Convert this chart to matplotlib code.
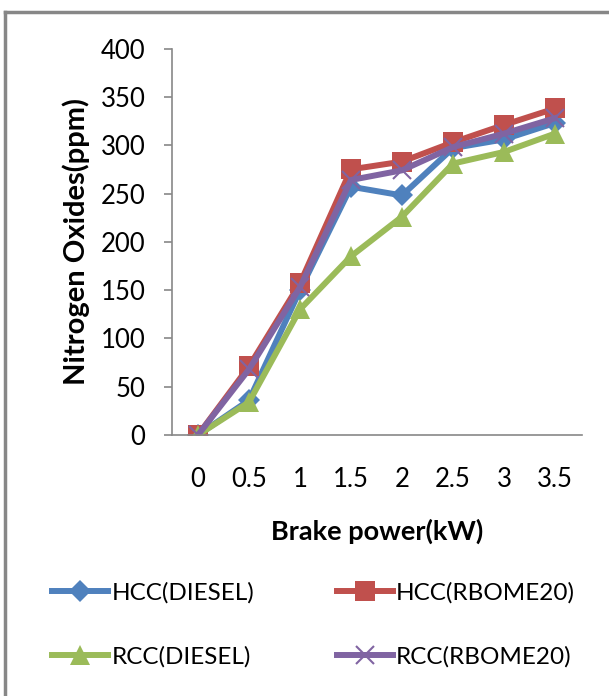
import matplotlib.pyplot as plt
from matplotlib.lines import Line2D

plt.rcParams['font.family'] = ['Lato', 'DejaVu Sans']

power = [0, 0.5, 1, 1.5, 2, 2.5, 3, 3.5]
hcc_diesel = [0, 36, 150, 257, 248, 297, 306, 323]
hcc_rbome20 = [0, 71, 157, 275, 283, 303, 321, 338]
rcc_diesel = [0, 34, 130, 185, 226, 281, 293, 312]
rcc_rbome20 = [0, 68, 153, 264, 274, 298, 312, 328]

series = [
    ('HCC(DIESEL)', hcc_diesel, '#4F81BD', 'D', 11),
    ('HCC(RBOME20)', hcc_rbome20, '#C0504D', 's', 14),
    ('RCC(DIESEL)', rcc_diesel, '#9BBB59', '^', 15),
    ('RCC(RBOME20)', rcc_rbome20, '#8064A2', 'x', 13),
]

W, H = 609, 696
fig = plt.figure(figsize=(W / 100, H / 100), dpi=100)
ax = fig.add_axes([172 / W, 1 - 435 / H, (582 - 172) / W, (435 - 48.6) / H])

for name, vals, col, mk, ms in series:
    mew = 1.5 if mk == 'x' else 0
    ax.plot(power, vals, color=col, lw=4.3, marker=mk, ms=ms, mew=mew,
            mec=col, mfc=col, label=name, solid_joinstyle='round')

ax.set_xlim(-0.255, 3.765)
ax.set_ylim(0, 400)
ax.set_yticks(range(0, 401, 50))
ax.set_xticks(power)
ax.set_xticklabels(['0', '0.5', '1', '1.5', '2', '2.5', '3', '3.5'])
for s in ['top', 'right']:
    ax.spines[s].set_visible(False)
for s in ['left', 'bottom']:
    ax.spines[s].set_color('#888888')
    ax.spines[s].set_linewidth(1.2)
ax.tick_params(axis='y', length=6, width=1.2, color='#888888', pad=13, labelsize=18.5)
ax.tick_params(axis='x', length=0, pad=23, labelsize=18.5)
ax.set_xlabel('Brake power(kW)', fontsize=19.5, fontweight='bold', labelpad=19)
ax.set_ylabel('Nitrogen Oxides(ppm)', fontsize=21, fontweight='bold', labelpad=8)

handles = [Line2D([], [], color=c, lw=4.3, marker=m, ms=s, mew=(1.5 if m == 'x' else 0), mec=c, mfc=c)
           for _, _, c, m, s in series]
labels = [n for n, _, _, _, _ in series]
order = [0, 2, 1, 3]
fig.legend([handles[i] for i in order], [labels[i] for i in order], ncol=2,
           loc='upper left', bbox_to_anchor=(42 / W, 1 - 572 / H), frameon=False,
           fontsize=17.5, handlelength=2.3, handletextpad=0.15, columnspacing=3.4,
           labelspacing=1.75, borderaxespad=0)

# outer frame (cut off on right and bottom)
fig.add_artist(Line2D([5 / W, 1], [1 - 12 / H, 1 - 12 / H], color='#878787', lw=2.5))
fig.add_artist(Line2D([5 / W, 5 / W], [0, 1 - 12 / H], color='#878787', lw=2.5))

fig.savefig('out.png', dpi=100)
